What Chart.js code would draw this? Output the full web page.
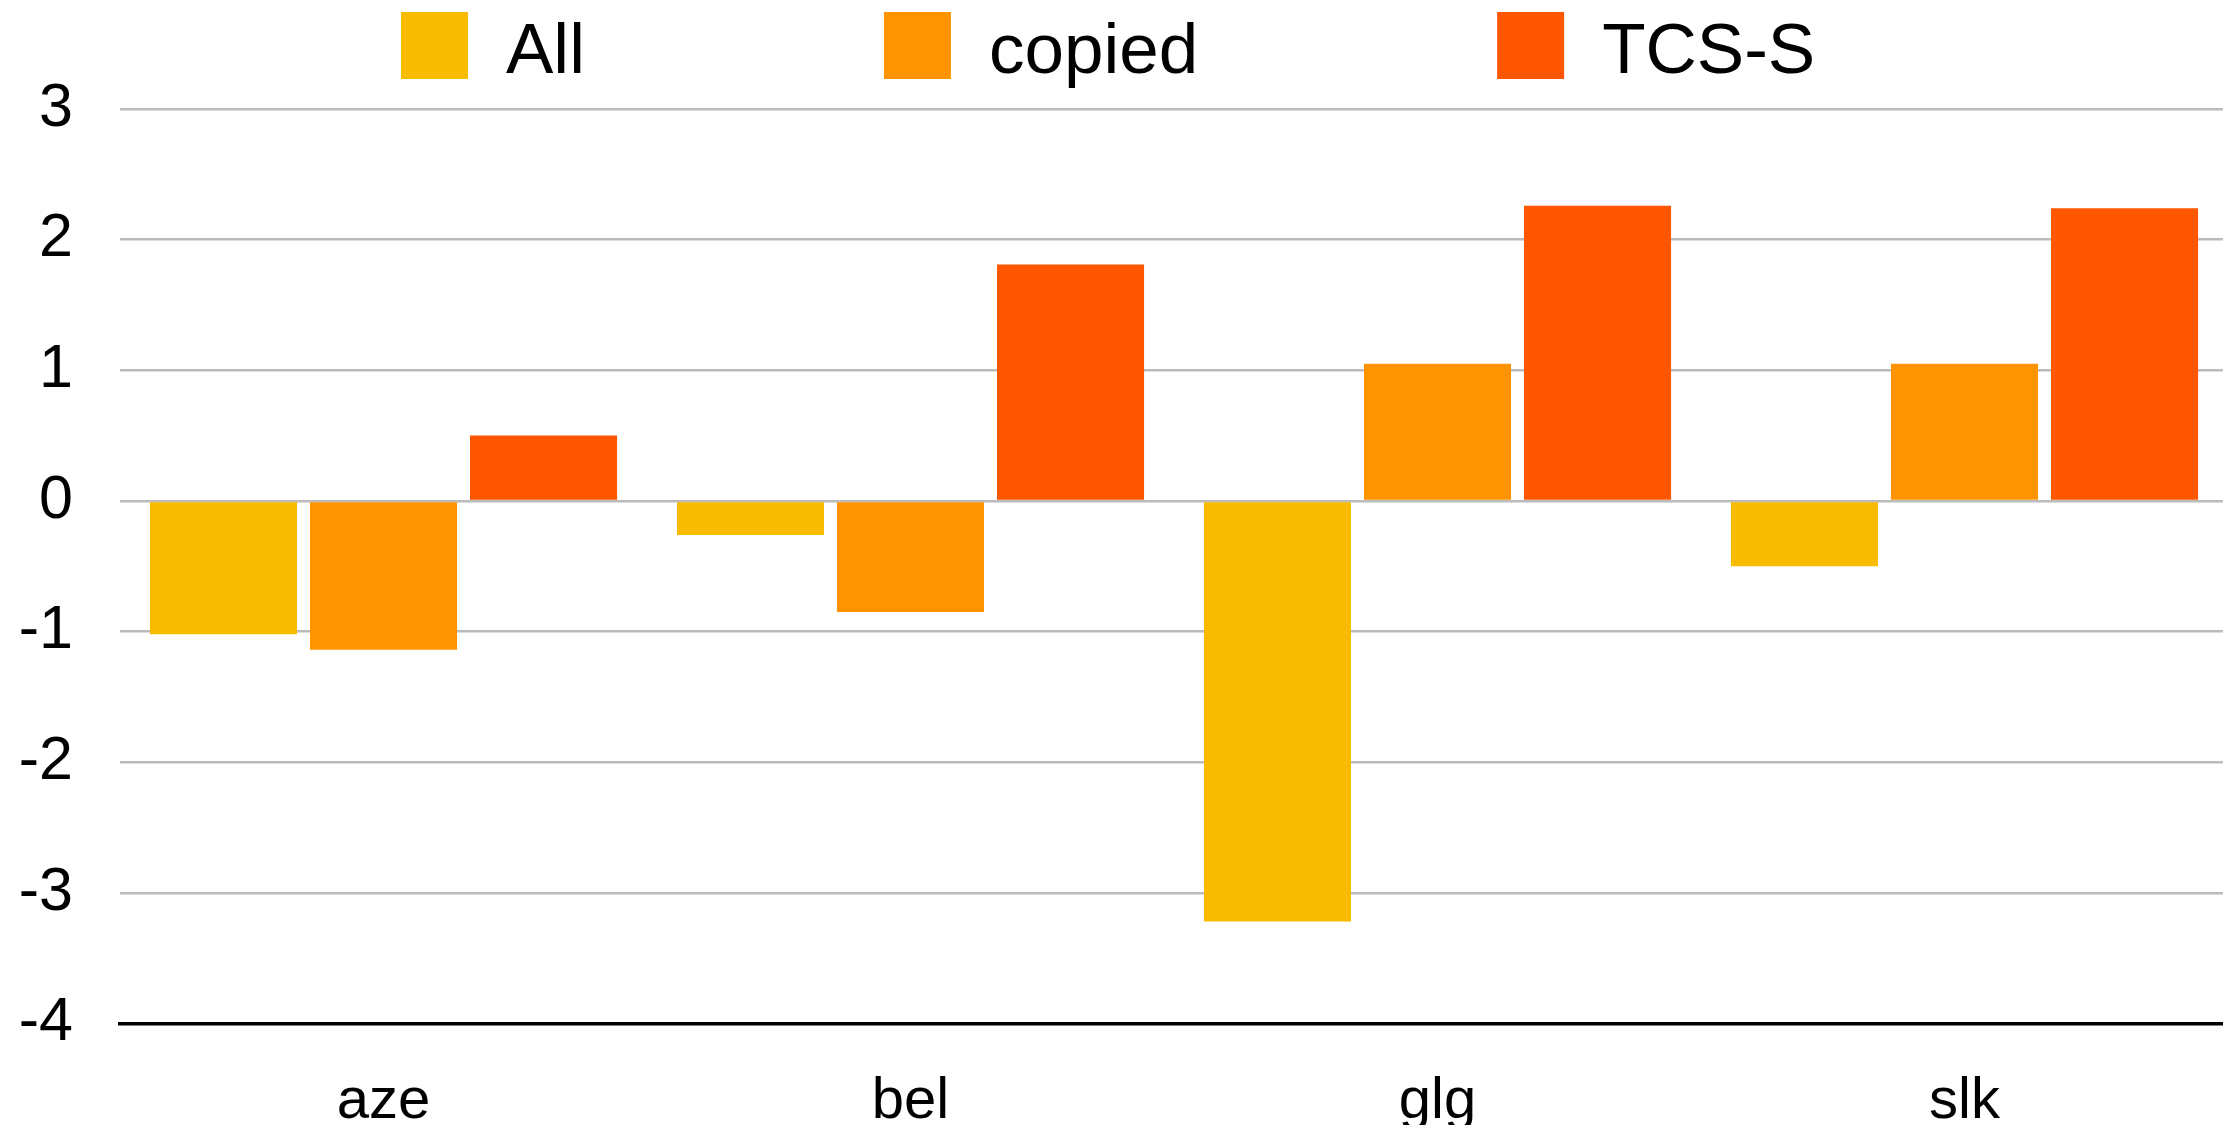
<!DOCTYPE html>
<html>
<head>
<meta charset="utf-8">
<script src="https://cdn.jsdelivr.net/npm/chart.js@4.4.1/dist/chart.umd.min.js"></script>
<style>
  html, body { margin: 0; padding: 0; background: #ffffff; overflow: hidden; }
  #wrap { width: 2228px; height: 1125px; }
  canvas { display: block; }
</style>
</head>
<body>
<div id="wrap"><canvas id="chart" width="2228" height="1125"></canvas></div>
<script>
// Categories and series
const categories = ['aze', 'bel', 'glg', 'slk'];
const seriesNames = ['All', 'copied', 'TCS-S'];
const allValues = [-1.02, -0.26, -3.22, -0.50];
const copiedValues = [-1.14, -0.85, 1.05, 1.05];
const tcsValues = [0.50, 1.81, 2.26, 2.24];
const yTickValues = [3, 2, 1, 0, -1, -2, -3, -4];
const seriesColors = ['#F7BB00', '#FF9400', '#FF5600'];

const FONT = '"Liberation Sans", Arial, Helvetica, sans-serif';

// Legend row drawn across the top of the canvas
const topLegend = {
  id: 'topLegend',
  afterDraw(chart) {
    const ctx = chart.ctx;
    const box = 67, textGap = 105, itemGap = 299;
    let x = 401;
    ctx.save();
    ctx.font = '71px ' + FONT;
    ctx.textBaseline = 'alphabetic';
    ctx.textAlign = 'left';
    chart.data.datasets.forEach(ds => {
      ctx.fillStyle = ds.backgroundColor;
      ctx.fillRect(x, 12, box, box);
      ctx.fillStyle = '#000000';
      ctx.fillText(ds.label, x + textGap, 73);
      x += textGap + ctx.measureText(ds.label).width + itemGap;
    });
    ctx.restore();
  }
};

const seriesValues = [allValues, copiedValues, tcsValues];

new Chart(document.getElementById('chart'), {
  type: 'bar',
  data: {
    labels: categories,
    datasets: seriesNames.map((name, i) => ({
      label: name,
      data: seriesValues[i],
      backgroundColor: seriesColors[i],
      borderWidth: 0,
      categoryPercentage: 0.911,
      barPercentage: 0.919
    }))
  },
  options: {
    responsive: false,
    animation: false,
    devicePixelRatio: 1,
    layout: { padding: { top: 109, right: 0, bottom: 0, left: 0 } },
    plugins: {
      legend: { display: false },
      tooltip: { enabled: false }
    },
    scales: {
      x: {
        grid: { display: false },
        border: { display: true, color: '#000000', width: 3.5 },
        ticks: {
          color: '#000000',
          font: { family: FONT, size: 58 },
          padding: 36,
          maxRotation: 0
        },
        afterFit(scale) { scale.height = 101.5; }
      },
      y: {
        min: -4,
        max: 3,
        afterBuildTicks(scale) { scale.ticks = yTickValues.map(v => ({ value: v })); },
        grid: { color: '#bbbbbb', lineWidth: 2.5, drawTicks: false },
        border: { display: false },
        ticks: {
          color: '#000000',
          font: { family: FONT, size: 61 },
          padding: 47
        },
        afterFit(scale) { scale.width = 120; }
      }
    }
  },
  plugins: [topLegend]
});
</script>
</body>
</html>
